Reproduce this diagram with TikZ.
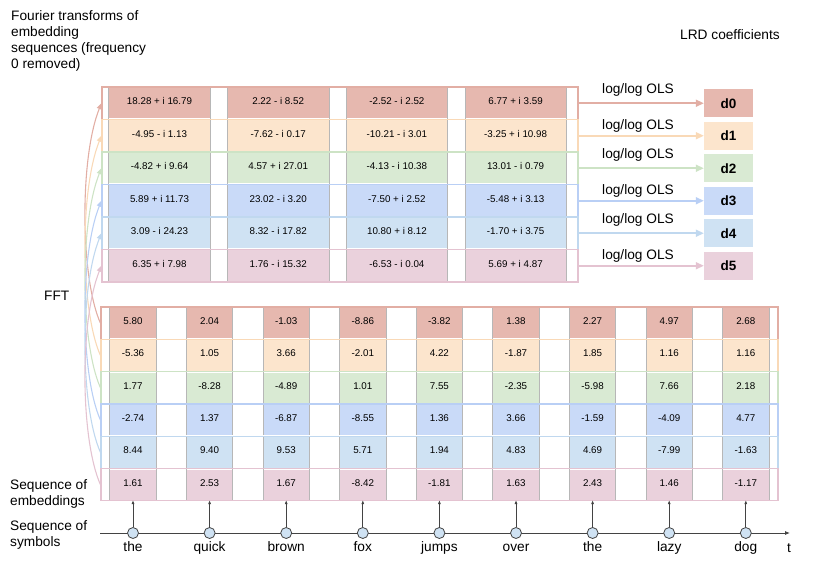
\documentclass[tikz,border=0pt]{standalone}
\usepackage{fontspec}
\setmainfont{Liberation Sans}
\usetikzlibrary{arrows.meta}
\definecolor{f0}{HTML}{E6B8AF}
\definecolor{f1}{HTML}{FCE5CD}
\definecolor{f2}{HTML}{D9EAD3}
\definecolor{f3}{HTML}{C9DAF8}
\definecolor{f4}{HTML}{CFE2F3}
\definecolor{f5}{HTML}{EAD1DC}
\definecolor{o0}{HTML}{E2AEA4}
\definecolor{o1}{HTML}{F9D9B7}
\definecolor{o2}{HTML}{CDE3C5}
\definecolor{o3}{HTML}{B9CFF5}
\definecolor{o4}{HTML}{C0D8EF}
\definecolor{o5}{HTML}{E4C3D1}
\definecolor{cellgray}{HTML}{B7B7B7}
\definecolor{symfill}{HTML}{CFE2F3}
\definecolor{darkline}{HTML}{434343}
\newcommand\mylbl{\fontsize{13.7}{15.7}\selectfont}
\newcommand\mytop{\fontsize{13.7}{16}\selectfont}
\newcommand\mycell{\fontsize{9.8}{11}\selectfont}
\newcommand\mybold{\fontsize{13.5}{15}\selectfont\bfseries}
\begin{document}
\begin{tikzpicture}[x=1pt,y=-1pt,
  rowT/.style={line width=1.1pt, fill=white, minimum width=476pt, minimum height=32.5pt, inner sep=0pt},
  rowB/.style={line width=1.1pt, fill=white, minimum width=677pt, minimum height=32.3pt, inner sep=0pt},
  cellT/.style={minimum width=101pt, minimum height=30.5pt, inner sep=0pt, font=\mycell, text depth=4pt},
  cellB/.style={minimum width=46pt, minimum height=30.3pt, inner sep=0pt, font=\mycell, text depth=4pt},
  cellline/.style={draw=cellgray, line width=0.7pt},
  dbox/.style={minimum width=49pt, minimum height=28pt, inner sep=0pt, font=\mybold},
  lbl/.style={font=\mylbl, inner sep=0pt},
  mlbl/.style={font=\mylbl, inner sep=0pt, align=left},
  olsarrow/.style={line width=1.8pt, -{Triangle[length=8pt,width=7pt]}},
  fftarrow/.style={line width=1.1pt, -{Triangle[length=6pt,width=5pt]}},
  symdot/.style={circle, draw=darkline, line width=0.8pt, fill=symfill, minimum size=11pt, inner sep=0pt},
  symarrow/.style={draw=darkline, line width=0.8pt, -{Latex[length=4pt,width=3pt]}}
]
\useasboundingbox (0,0) rectangle (830,561);

% top table (Fourier transforms)
\foreach [count=\r from 0] \vals in {%
  {18.28 + i 16.79, 2.22 - i 8.52, -2.52 - i 2.52, 6.77 + i 3.59},
  {-4.95 - i 1.13, -7.62 - i 0.17, -10.21 - i 3.01, -3.25 + i 10.98},
  {-4.82 + i 9.64, 4.57 + i 27.01, -4.13 - i 10.38, 13.01 - i 0.79},
  {5.89 + i 11.73, 23.02 - i 3.20, -7.50 + i 2.52, -5.48 + i 3.13},
  {3.09 - i 24.23, 8.32 - i 17.82, 10.80 + i 8.12, -1.70 + i 3.75},
  {6.35 + i 7.98, 1.76 - i 15.32, -6.53 - i 0.04, 5.69 + i 4.87}} {
  \node[rowT, draw=o\r] (T\r) at (340,{103.25+32.5*\r}) {};
  \foreach [count=\k from 0] \v in \vals {
    \node[cellT, fill=f\r] (t\r-\k) at ({159.5+118.7*\k},{103.25+32.5*\r}) {\v};
    \draw[cellline] (t\r-\k.north west) -- (t\r-\k.south west) (t\r-\k.north east) -- (t\r-\k.south east);
  }
}

% bottom table (embeddings)
\foreach [count=\r from 0] \vals in {%
  {5.80, 2.04, -1.03, -8.86, -3.82, 1.38, 2.27, 4.97, 2.68},
  {-5.36, 1.05, 3.66, -2.01, 4.22, -1.87, 1.85, 1.16, 1.16},
  {1.77, -8.28, -4.89, 1.01, 7.55, -2.35, -5.98, 7.66, 2.18},
  {-2.74, 1.37, -6.87, -8.55, 1.36, 3.66, -1.59, -4.09, 4.77},
  {8.44, 9.40, 9.53, 5.71, 1.94, 4.83, 4.69, -7.99, -1.63},
  {1.61, 2.53, 1.67, -8.42, -1.81, 1.63, 2.43, 1.46, -1.17}} {
  \node[rowB, draw=o\r] (B\r) at (439.5,{323.2+32.3*\r}) {};
  \foreach [count=\k from 0] \v in \vals {
    \node[cellB, fill=f\r] (b\r-\k) at ({133+76.6*\k},{323.2+32.3*\r}) {\v};
    \draw[cellline] (b\r-\k.north west) -- (b\r-\k.south west) (b\r-\k.north east) -- (b\r-\k.south east);
  }
}

% FFT curves
\foreach \r in {0,...,5} {
  \draw[fftarrow, draw=o\r] (B\r.west) .. controls +(-20,-45) and +(-22,55) .. (T\r.west);
}

% LRD coefficient boxes and OLS arrows
\foreach \r/\yl in {0/94,1/129.3,2/158.3,3/194.3,4/224,5/260} {
  \node[dbox, fill=f\r] (d\r) at (728.5,{103.25+32.5*\r}) {d\r};
  \draw[olsarrow, draw=o\r] (T\r.east) -- (d\r.west);
  \node[lbl, anchor=base] (ols\r) at (638,\yl) {log/log OLS};
}

% text labels (base anchor of a multi-line node is its last line)
\node[mlbl, font=\mytop, anchor=base west] (fourier) at (11,69) {Fourier transforms of\\embedding\\sequences (frequency\\0 removed)};
\node[lbl, anchor=base west] (lrd) at (680,40) {LRD coefficients};
\node[lbl, anchor=base west] (fft) at (44,301) {FFT};
\node[mlbl, anchor=base west] (seqemb) at (10,505) {Sequence of\\embeddings};
\node[mlbl, anchor=base west] (seqsym) at (10,546) {Sequence of\\symbols};

% time axis and symbols
\coordinate (ax0) at (100,533);
\coordinate (ax1) at (790,533);
\draw[darkline, line width=0.8pt, -{Latex[length=5pt,width=4pt]}] (ax0) -- (ax1);
\node[lbl, anchor=base] (tlabel) at (789,552) {t};
\foreach [count=\k from 0] \w in {the,quick,brown,fox,jumps,over,the,lazy,dog} {
  \node[symdot] (s\k) at ({133+76.6*\k},533) {};
  \draw[symarrow] (s\k) -- (b5-\k.south);
  \node[lbl, anchor=base] (w\k) at ({133+76.6*\k},551) {\w};
}
\end{tikzpicture}
\end{document}
